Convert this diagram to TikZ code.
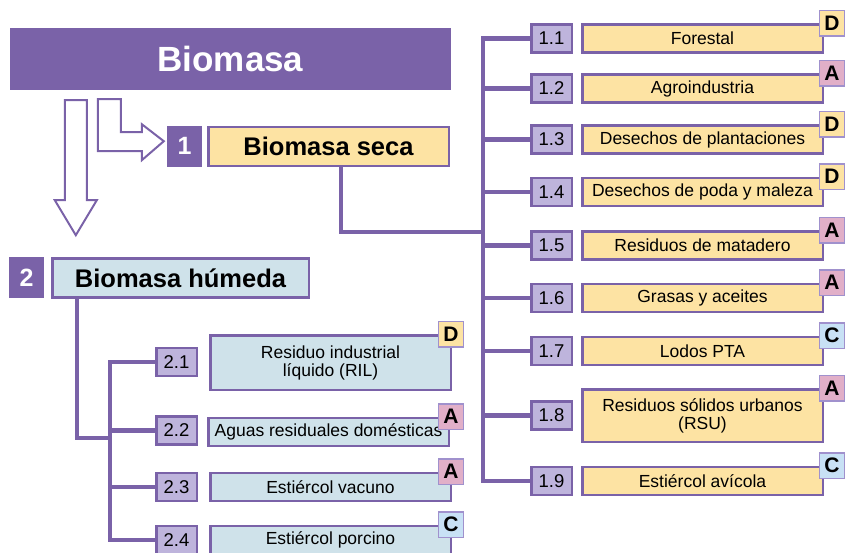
\documentclass[tikz,border=0pt]{standalone}
\usepackage{fontspec}
\setmainfont{Liberation Sans}
\definecolor{biopurple}{RGB}{122,98,168}
\definecolor{bioyellow}{RGB}{253,227,163}
\definecolor{bioblue}{RGB}{207,226,234}
\definecolor{biolav}{RGB}{190,180,220}
\definecolor{biopink}{RGB}{225,175,200}
\definecolor{bioskye}{RGB}{200,225,245}
\definecolor{bioedge}{RGB}{160,145,205}
\tikzset{
    headbox/.style={fill=biopurple, text=white, font=\bfseries\fontsize{35}{40}\selectfont, inner sep=0pt},
    numsq/.style={fill=biopurple, text=white, font=\bfseries\fontsize{25}{28}\selectfont, minimum width=35pt, minimum height=41pt, inner sep=0pt},
    groupbox/.style={draw=biopurple, line width=2.5pt, font=\bfseries\fontsize{25.5}{28}\selectfont, minimum height=39pt, inner sep=0pt},
    numbox/.style={draw=biopurple, line width=2.5pt, fill=biolav, font=\fontsize{18.5}{19}\selectfont, minimum width=40.5pt, minimum height=28pt, inner sep=0pt},
    itembox/.style={draw=biopurple, line width=2.5pt, font=\fontsize{17.5}{18}\selectfont, align=center, minimum width=240.5pt, minimum height=28pt, inner sep=0pt},
    badge/.style={draw=bioedge, line width=1.5pt, font=\bfseries\fontsize{21}{22}\selectfont, minimum width=25pt, minimum height=25.5pt, inner sep=0pt},
    conn/.style={draw=biopurple, line width=4.5pt},
    hollow/.style={draw=biopurple, line width=2pt, fill=white, line join=miter}
}
\begin{document}
\begin{tikzpicture}[x=1pt,y=-1pt]
                \useasboundingbox (0,0) rectangle (845,552);
                \clip (0,0) rectangle (845,552);
                \node[headbox, minimum width=441pt, minimum height=62pt] (bio) at (230.5,59) {Biomasa};
                \node[numsq] (g1) at (184.5,146) {1};
                \node[groupbox, fill=bioyellow, minimum width=240.5pt] (seca) at (328.5,146.5) {Biomasa seca};
                \node[numsq] (g2) at (26.5,277.5) {2};
                \node[groupbox, fill=bioblue, minimum width=256.5pt] (humeda) at (180.5,278) {Biomasa húmeda};
                \begin{scope}[shift={(bio.south west)}]
                    \draw[hollow] (55,10) -- (77,10) -- (77,110) -- (87,110) -- (66,145) -- (45,110) -- (55,110) -- cycle;
                    \draw[hollow] (88,9) -- (111,9) -- (111,42) -- (132,42) -- (132,34) -- (154,51) -- (132,70) -- (132,61) -- (88,61) -- cycle;
                \end{scope}
                \node[numbox] (n1) at (551.5,38.5) {1.1};
                \node[numbox] (n2) at (551.5,88.5) {1.2};
                \node[numbox] (n3) at (551.5,139.5) {1.3};
                \node[numbox] (n4) at (551.5,192) {1.4};
                \node[numbox] (n5) at (551.5,245.5) {1.5};
                \node[numbox] (n6) at (551.5,298) {1.6};
                \node[numbox] (n7) at (551.5,351) {1.7};
                \node[numbox] (n8) at (551.5,415.5) {1.8};
                \node[numbox] (n9) at (551.5,481) {1.9};
                \node[itembox, fill=bioyellow] (t1) at (702.5,38.5) {Forestal};
                \node[itembox, fill=bioyellow] (t2) at (702.5,88.5) {Agroindustria};
                \node[itembox, fill=bioyellow] (t3) at (702.5,139.5) {Desechos de plantaciones};
                \node[itembox, fill=bioyellow] (t4) at (702.5,192) {Desechos de poda y maleza};
                \node[itembox, fill=bioyellow] (t5) at (702.5,245.5) {Residuos de matadero};
                \node[itembox, fill=bioyellow] (t6) at (702.5,298) {Grasas y aceites};
                \node[itembox, fill=bioyellow] (t7) at (702.5,351) {Lodos PTA};
                \node[itembox, fill=bioyellow, minimum height=52.5pt] (t8) at (702.5,415.5) {Residuos sólidos urbanos\\(RSU)};
                \node[itembox, fill=bioyellow] (t9) at (702.5,481) {Estiércol avícola};
                \node[badge, fill=bioyellow] (b1) at ([xshift=8pt]t1.north east) {D};
                \node[badge, fill=biopink] (b2) at ([xshift=8pt]t2.north east) {A};
                \node[badge, fill=bioyellow] (b3) at ([xshift=8pt]t3.north east) {D};
                \node[badge, fill=bioyellow] (b4) at ([xshift=8pt]t4.north east) {D};
                \node[badge, fill=biopink] (b5) at ([xshift=8pt]t5.north east) {A};
                \node[badge, fill=biopink] (b6) at ([xshift=8pt]t6.north east) {A};
                \node[badge, fill=bioskye] (b7) at ([xshift=8pt]t7.north east) {C};
                \node[badge, fill=biopink] (b8) at ([xshift=8pt]t8.north east) {A};
                \node[badge, fill=bioskye] (b9) at ([xshift=8pt]t9.north east) {C};
                \coordinate (trunk1) at (483,232);
                \draw[conn] (n1.west) -| (trunk1) |- (n9.west);
                \draw[conn] (n2.west) -- (n2.west -| trunk1);
                \draw[conn] (n3.west) -- (n3.west -| trunk1);
                \draw[conn] (n4.west) -- (n4.west -| trunk1);
                \draw[conn] (n5.west) -- (n5.west -| trunk1);
                \draw[conn] (n6.west) -- (n6.west -| trunk1);
                \draw[conn] (n7.west) -- (n7.west -| trunk1);
                \draw[conn] (n8.west) -- (n8.west -| trunk1);
                \draw[conn] ([xshift=12.5pt]seca.south) |- (trunk1);
                \node[numbox] (m1) at (176.5,362) {2.1};
                \node[numbox] (m2) at (176.5,430.5) {2.2};
                \node[numbox] (m3) at (176.5,487) {2.3};
                \node[numbox] (m4) at (176.5,540) {2.4};
                \node[itembox, fill=bioblue, minimum height=54.5pt] (u1) at (330.5,362.5) {Residuo industrial\\líquido (RIL)};
                \node[itembox, fill=bioblue] (u2) at (328.5,432) {Aguas residuales domésticas};
                \node[itembox, fill=bioblue] (u3) at (330.5,487) {Estiércol vacuno};
                \node[itembox, fill=bioblue] (u4) at (330.5,540) {Estiércol porcino};
                \node[badge, fill=bioyellow] (c1) at ([xshift=-1pt]u1.north east) {D};
                \node[badge, fill=biopink] (c2) at ([xshift=1pt]u2.north east) {A};
                \node[badge, fill=biopink] (c3) at ([xshift=-1pt]u3.north east) {A};
                \node[badge, fill=bioskye] (c4) at ([xshift=-1pt]u4.north east) {C};
                \coordinate (trunk2) at (110,438);
                \draw[conn] (m1.west) -| (trunk2) |- (m4.west);
                \draw[conn] (m2.west) -- (m2.west -| trunk2);
                \draw[conn] (m3.west) -- (m3.west -| trunk2);
                \draw[conn] ([xshift=26pt]humeda.south west) |- (trunk2);
\end{tikzpicture}
\end{document}
